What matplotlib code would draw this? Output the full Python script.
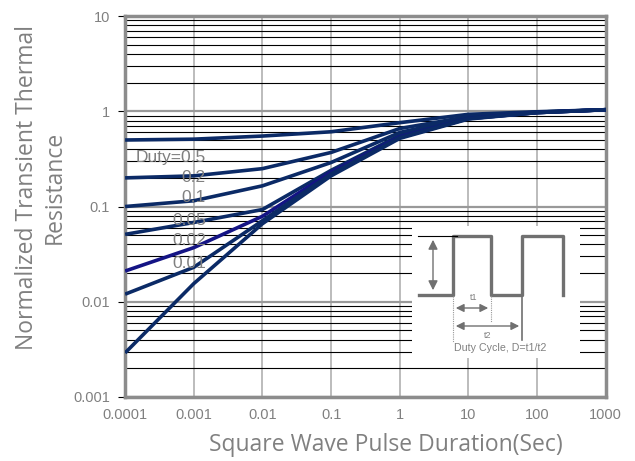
import matplotlib
matplotlib.use("Agg")
import matplotlib.pyplot as plt
from matplotlib.patches import Rectangle

# pulse duration (s)
pulse = [1e-4, 1e-3, 1e-2, 1e-1, 1, 10, 100, 1000]

duty_labels = ["Duty=0.5", "0.2", "0.1", "0.05", "0.02", "0.01"]
d05 = [0.50, 0.51, 0.55, 0.61, 0.76, 0.93, 0.99, 1.04]
d02 = [0.20, 0.21, 0.25, 0.37, 0.66, 0.88, 0.98, 1.04]
d01 = [0.10, 0.115, 0.165, 0.29, 0.60, 0.86, 0.98, 1.04]
d005 = [0.051, 0.068, 0.093, 0.24, 0.56, 0.85, 0.97, 1.04]
d002 = [0.021, 0.037, 0.079, 0.23, 0.54, 0.84, 0.97, 1.04]
d001 = [0.012, 0.023, 0.071, 0.22, 0.53, 0.84, 0.97, 1.04]
single = [0.0029, 0.0155, 0.066, 0.21, 0.52, 0.83, 0.97, 1.04]

label_y = [0.33, 0.20, 0.123, 0.071, 0.044, 0.025]

xticks = [1e-4, 1e-3, 1e-2, 1e-1, 1, 10, 100, 1000]
xticklabels = ["0.0001", "0.001", "0.01", "0.1", "1", "10", "100", "1000"]
yticks = [0.001, 0.01, 0.1, 1, 10]
yticklabels = ["0.001", "0.01", "0.1", "1", "10"]

navy = "#0b2a66"
gray = "#808080"

fig = plt.figure(figsize=(6.35, 4.61), dpi=100)
ax = fig.add_axes([0.197, 0.139, 0.757, 0.826])
ax.set_xscale("log")
ax.set_yscale("log")
ax.set_xlim(1e-4, 1000)
ax.set_ylim(0.001, 10)

ax.yaxis.grid(True, which="minor", color="black", lw=0.8)
ax.yaxis.grid(True, which="major", color="#999999", lw=1.6)
ax.xaxis.grid(True, which="major", color="#b0b0b0", lw=1.2)
ax.set_axisbelow(True)

series = [d05, d02, d01, d005, d002, d001, single]
for i, s in enumerate(series):
    c = "#141485" if i == 4 else navy
    ax.plot(pulse, s, color=c, lw=2.6, solid_capstyle="butt", zorder=3)

for lab, y in zip(duty_labels, label_y):
    ax.text(0.0015, y, lab, ha="right", va="center", color=gray,
            fontsize=12.5, family="Liberation Sans", zorder=4)

ax.set_xticks(xticks)
ax.set_xticklabels(xticklabels)
ax.set_yticks(yticks)
ax.set_yticklabels(yticklabels)
ax.tick_params(axis="x", which="both", length=0, pad=8, labelcolor=gray, labelsize=10.5)
ax.tick_params(axis="y", which="major", length=5, direction="out", pad=6,
               labelcolor=gray, labelsize=10.5, color="black")
ax.tick_params(axis="y", which="minor", length=0)
for t in ax.get_xticklabels() + ax.get_yticklabels():
    t.set_family("Liberation Sans")
for sp in ax.spines.values():
    sp.set_color("#8c8c8c")
    sp.set_linewidth(2.5)

ax.set_xlabel("Square Wave Pulse Duration(Sec)", family="Open Sans", fontsize=16.5,
              color=gray)
ax.xaxis.set_label_coords(0.543, -0.095)
ax.set_ylabel("Normalized Transient Thermal\nResistance", family="Open Sans",
              fontsize=16.5, color=gray, linespacing=1.2)
ax.yaxis.set_label_coords(-0.122, 0.55)

# inset schematic in figure pixel coordinates (top-left origin)
ov = fig.add_axes([0, 0, 1, 1])
ov.set_xlim(0, 635)
ov.set_ylim(461, 0)
ov.axis("off")
ov.add_patch(Rectangle((412, 226), 168, 132, facecolor="white", edgecolor="none"))
wg = "#707070"
ov.plot([419, 453, 453, 491, 491, 522, 522, 563, 563],
        [295, 295, 236, 236, 295, 295, 236, 236, 295], color=wg, lw=2.4)
ov.plot([418, 457], [236, 236], color="black", lw=0.8)
ov.annotate("", xy=(433, 237), xytext=(433, 293),
            arrowprops=dict(arrowstyle="<|-|>", color=wg, lw=1, mutation_scale=14))
ov.plot([453, 453], [296, 342], color="#999999", lw=0.8, ls=(0, (1, 1)))
ov.plot([491, 491], [296, 322], color="#999999", lw=0.8, ls=(0, (1, 1)))
ov.plot([522, 522], [296, 340], color=wg, lw=1.2)
ov.annotate("", xy=(453, 308), xytext=(491, 308),
            arrowprops=dict(arrowstyle="<|-|>", color=wg, lw=1, mutation_scale=12))
ov.annotate("", xy=(453, 326), xytext=(522, 326),
            arrowprops=dict(arrowstyle="<|-|>", color=wg, lw=1, mutation_scale=12))
ov.text(474, 297, "t1", ha="center", va="center", fontsize=6.5, color=gray,
        family="Liberation Sans")
ov.text(488, 335, "t2", ha="center", va="center", fontsize=6.5, color=gray,
        family="Liberation Sans")
ov.text(500, 348, "Duty Cycle, D=t1/t2", ha="center", va="center", fontsize=7.7,
        color=gray, family="Liberation Sans")

fig.savefig("out.png", dpi=100)
